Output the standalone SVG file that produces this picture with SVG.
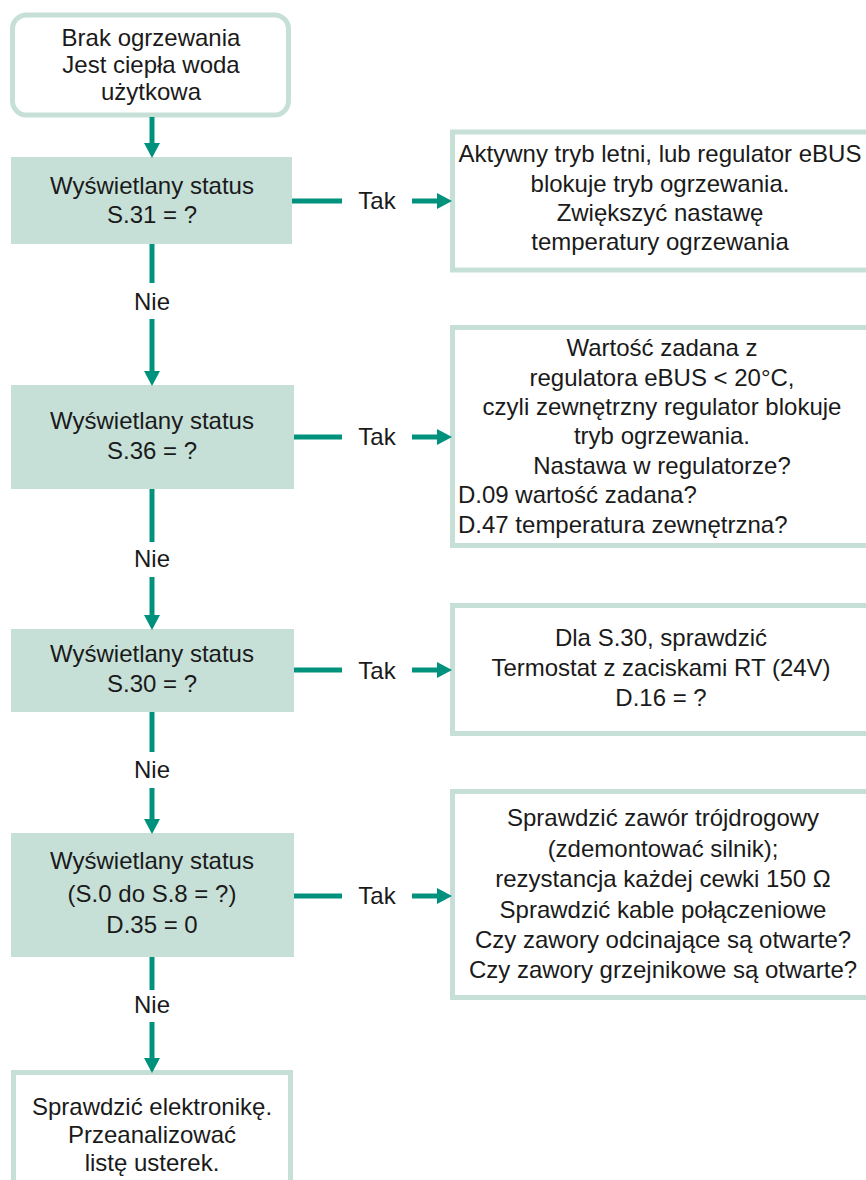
<svg xmlns="http://www.w3.org/2000/svg" width="866" height="1180" viewBox="0 0 866 1180">
  <style>
    text { font-family: "Liberation Sans", Arial, sans-serif; font-size: 24px; fill: #1a1a1a; }
    .c { text-anchor: middle; }
    .decision { fill: #c6e0d8; }
    .frame { fill: #ffffff; stroke: #c6e0d8; stroke-width: 5; }
    .link { fill: none; stroke: #00927d; stroke-width: 5; }
  </style>
  <defs>
    <marker id="head" markerUnits="userSpaceOnUse" markerWidth="15" markerHeight="16" refX="0" refY="8" orient="auto">
      <path d="M0,0 L15,8 L0,16 Z" fill="#00927d"/>
    </marker>
  </defs>

  <rect width="866" height="1180" fill="#ffffff"/>

  <!-- start node -->
  <g id="start">
    <rect class="frame" x="12.5" y="15" width="276" height="100" rx="14" stroke-width="4.5"/>
    <text class="c" x="151" y="46">Brak ogrzewania</text>
    <text class="c" x="151" y="73">Jest ciepła woda</text>
    <text class="c" x="151" y="100">użytkowa</text>
  </g>

  <!-- decisions -->
  <g id="q-s31">
    <rect class="decision" x="11" y="157" width="281" height="87"/>
    <text class="c" x="152" y="194">Wyświetlany status</text>
    <text class="c" x="152" y="223">S.31 = ?</text>
  </g>
  <g id="q-s36">
    <rect class="decision" x="11" y="385" width="283" height="104"/>
    <text class="c" x="152" y="429">Wyświetlany status</text>
    <text class="c" x="152" y="459">S.36 = ?</text>
  </g>
  <g id="q-s30">
    <rect class="decision" x="11" y="629" width="283" height="83"/>
    <text class="c" x="152" y="662">Wyświetlany status</text>
    <text class="c" x="152" y="692">S.30 = ?</text>
  </g>
  <g id="q-s0-s8">
    <rect class="decision" x="11" y="833" width="283" height="124"/>
    <text class="c" x="152" y="869">Wyświetlany status</text>
    <text class="c" x="152" y="902">(S.0 do S.8 = ?)</text>
    <text class="c" x="152" y="933">D.35 = 0</text>
  </g>

  <!-- final node -->
  <g id="electronics">
    <rect class="frame" x="13.5" y="1072.5" width="277" height="140"/>
    <text class="c" x="152" y="1115">Sprawdzić elektronikę.</text>
    <text class="c" x="152" y="1143">Przeanalizować</text>
    <text class="c" x="152" y="1171">listę usterek.</text>
  </g>

  <!-- answers -->
  <g id="a-s31">
    <rect class="frame" x="452.5" y="132" width="420" height="138"/>
    <text class="c" x="660" y="162">Aktywny tryb letni, lub regulator eBUS</text>
    <text class="c" x="660" y="192">blokuje tryb ogrzewania.</text>
    <text class="c" x="660" y="221">Zwiększyć nastawę</text>
    <text class="c" x="660" y="250">temperatury ogrzewania</text>
  </g>
  <g id="a-s36">
    <rect class="frame" x="452.5" y="327.5" width="420" height="218"/>
    <text class="c" x="662" y="356">Wartość zadana z</text>
    <text class="c" x="662" y="386">regulatora eBUS &lt; 20°C,</text>
    <text class="c" x="662" y="415">czyli zewnętrzny regulator blokuje</text>
    <text class="c" x="662" y="444">tryb ogrzewania.</text>
    <text class="c" x="662" y="474">Nastawa w regulatorze?</text>
    <text x="458" y="503">D.09 wartość zadana?</text>
    <text x="458" y="533">D.47 temperatura zewnętrzna?</text>
  </g>
  <g id="a-s30">
    <rect class="frame" x="452.5" y="605.5" width="420" height="128"/>
    <text class="c" x="661" y="646">Dla S.30, sprawdzić</text>
    <text class="c" x="661" y="676">Termostat z zaciskami RT (24V)</text>
    <text class="c" x="661" y="706">D.16 = ?</text>
  </g>
  <g id="a-s0-s8">
    <rect class="frame" x="452.5" y="791.5" width="420" height="206"/>
    <text class="c" x="663" y="826">Sprawdzić zawór trójdrogowy</text>
    <text class="c" x="663" y="857">(zdemontować silnik);</text>
    <text class="c" x="663" y="887">rezystancja każdej cewki 150 Ω</text>
    <text class="c" x="663" y="918">Sprawdzić kable połączeniowe</text>
    <text class="c" x="663" y="948">Czy zawory odcinające są otwarte?</text>
    <text class="c" x="663" y="978">Czy zawory grzejnikowe są otwarte?</text>
  </g>

  <!-- connectors -->
  <g id="connectors">
    <path class="link" d="M152,117 V143" marker-end="url(#head)"/>

    <path class="link" d="M152,244 V283"/>
    <path class="link" d="M152,319 V371" marker-end="url(#head)"/>
    <text class="c" x="152" y="310">Nie</text>

    <path class="link" d="M152,489 V542"/>
    <path class="link" d="M152,577 V615" marker-end="url(#head)"/>
    <text class="c" x="152" y="567">Nie</text>

    <path class="link" d="M152,712 V752"/>
    <path class="link" d="M152,788 V819" marker-end="url(#head)"/>
    <text class="c" x="152" y="778">Nie</text>

    <path class="link" d="M152,957 V990"/>
    <path class="link" d="M152,1022 V1058" marker-end="url(#head)"/>
    <text class="c" x="152" y="1013">Nie</text>

    <path class="link" d="M292,201 H342"/>
    <path class="link" d="M412,201 H437" marker-end="url(#head)"/>
    <text class="c" x="377" y="209">Tak</text>

    <path class="link" d="M294,437 H342"/>
    <path class="link" d="M412,437 H437" marker-end="url(#head)"/>
    <text class="c" x="377" y="445">Tak</text>

    <path class="link" d="M294,670 H342"/>
    <path class="link" d="M412,670 H437" marker-end="url(#head)"/>
    <text class="c" x="377" y="679">Tak</text>

    <path class="link" d="M294,896 H342"/>
    <path class="link" d="M412,896 H437" marker-end="url(#head)"/>
    <text class="c" x="377" y="904">Tak</text>
  </g>
</svg>
